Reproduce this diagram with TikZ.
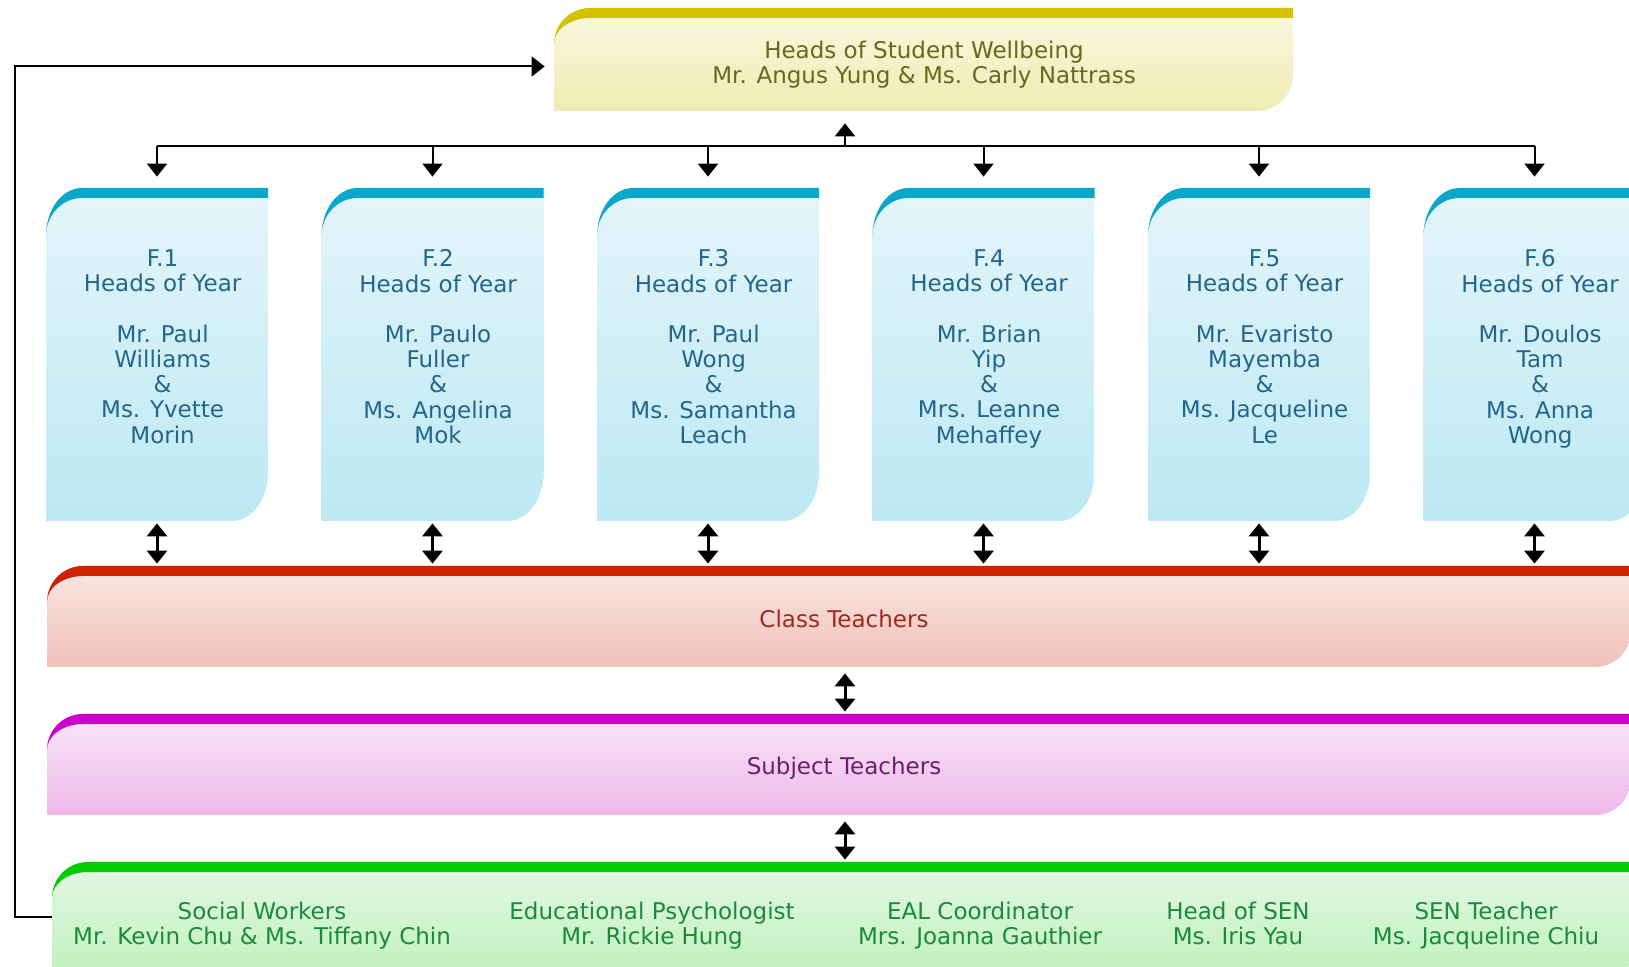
\documentclass[tikz,border=0pt]{standalone}
\usepackage{fontspec}
\setmainfont{DejaVu Sans}
\usetikzlibrary{arrows.meta,calc}

\definecolor{wbtop}{HTML}{FAF8E0}
\definecolor{wbbot}{HTML}{F0EBB4}
\definecolor{wbband}{HTML}{D2C200}
\definecolor{wbtxt}{HTML}{6B671C}
\definecolor{yrtop}{HTML}{E4F5FA}
\definecolor{yrbot}{HTML}{BDE9F3}
\definecolor{yrband}{HTML}{0BA7CB}
\definecolor{yrtxt}{HTML}{22668E}
\definecolor{cttop}{HTML}{F9E7E2}
\definecolor{ctbot}{HTML}{F0C1B9}
\definecolor{ctband}{HTML}{CC2200}
\definecolor{cttxt}{HTML}{A0281E}
\definecolor{sttop}{HTML}{F8E6F6}
\definecolor{stbot}{HTML}{F0B8EC}
\definecolor{stband}{HTML}{CC00CC}
\definecolor{sttxt}{HTML}{6E1C6E}
\definecolor{sptop}{HTML}{E6F8E4}
\definecolor{spbot}{HTML}{BAF0BA}
\definecolor{spband}{HTML}{00CC00}
\definecolor{sptxt}{HTML}{1B8A3A}

\begin{document}
\begin{tikzpicture}
  [x=0.5pt,y=-0.5pt,
   every node/.style={align=center,inner sep=0pt,font=\fontsize{11.5pt}{12.6pt}\selectfont},
   cry/.store in=\cry, cry=18pt,
   card/.style={rectangle,
     path picture={
       \coordinate (pp-sw) at (path picture bounding box.south west);
       \coordinate (pp-ne) at (path picture bounding box.north east);
       \shade[top color=#1top,bottom color=#1bot]
         (pp-sw) -- ($(pp-sw |- pp-ne)+(0pt,-\cry)$) arc[start angle=180,end angle=90,x radius=18pt,y radius=\cry]
         -- (pp-ne) -- ($(pp-ne |- pp-sw)+(0pt,\cry)$) arc[start angle=0,end angle=-90,x radius=18pt,y radius=\cry]
         -- cycle;
       \fill[#1band]
         ($(pp-sw |- pp-ne)+(0pt,-\cry)$) arc[start angle=180,end angle=90,x radius=18pt,y radius=\cry]
         -- (pp-ne) -- ++(0pt,-5pt) -- ($(pp-sw |- pp-ne)+(18pt,-5pt)$)
         arc[start angle=90,end angle=180,x radius=18pt,y radius=\cry-5pt] -- cycle;
     }},
   yrbox/.style={card=yr,cry=24pt,minimum width=111pt,minimum height=166.5pt},
   txt/.style={text=#1txt,execute at begin node=\strut,execute at end node=\strut},
   link/.style={draw,line width=1pt,-{Triangle[width=10pt,length=6.5pt]}},
   dbl/.style={draw,line width=1.5pt,{Triangle[width=10pt,length=6.5pt]}-{Triangle[width=10pt,length=6.5pt]}}]
  \useasboundingbox (0,0) rectangle (1629,967);
  \clip (0,0) rectangle (1629,967);

  % boxes
  \node[card=wb,minimum width=369.5pt,minimum height=51.5pt] (wb) at (923.5,59.5) {};
  \node[yrbox] (f1) at (157,354.5) {};
  \node[yrbox] (f2) at (432.5,354.5) {};
  \node[yrbox] (f3) at (708,354.5) {};
  \node[yrbox] (f4) at (983.5,354.5) {};
  \node[yrbox] (f5) at (1259,354.5) {};
  \node[yrbox] (f6) at (1534.5,354.5) {};
  \node[card=ct,minimum width=792pt,minimum height=50.5pt] (class) at (839,616.5) {};
  \node[card=st,minimum width=792pt,minimum height=50.5pt] (subj) at (839,764.5) {};
  \node[card=sp,minimum width=789.5pt,minimum height=64pt] (sp) at (841.5,926) {};

  % texts
  \node[txt=wb] (wbtext) at (924,66) {Heads of Student Wellbeing\\Mr. Angus Yung \& Ms. Carly Nattrass};
  \node[txt=yr] (t1) at ([xshift=2.8pt,yshift=2.1pt]f1.center)
    {F.1\\Heads of Year\\[12.6pt]Mr. Paul\\Williams\\\&\\Ms. Yvette\\Morin};
  \node[txt=yr] (t2) at ([xshift=2.8pt,yshift=2.1pt]f2.center)
    {F.2\\Heads of Year\\[12.6pt]Mr. Paulo\\Fuller\\\&\\Ms. Angelina\\Mok};
  \node[txt=yr] (t3) at ([xshift=2.8pt,yshift=2.1pt]f3.center)
    {F.3\\Heads of Year\\[12.6pt]Mr. Paul\\Wong\\\&\\Ms. Samantha\\Leach};
  \node[txt=yr] (t4) at ([xshift=2.8pt,yshift=2.1pt]f4.center)
    {F.4\\Heads of Year\\[12.6pt]Mr. Brian\\Yip\\\&\\Mrs. Leanne\\Mehaffey};
  \node[txt=yr] (t5) at ([xshift=2.8pt,yshift=2.1pt]f5.center)
    {F.5\\Heads of Year\\[12.6pt]Mr. Evaristo\\Mayemba\\\&\\Ms. Jacqueline\\Le};
  \node[txt=yr] (t6) at ([xshift=2.8pt,yshift=2.1pt]f6.center)
    {F.6\\Heads of Year\\[12.6pt]Mr. Doulos\\Tam\\\&\\Ms. Anna\\Wong};
  \node[txt=ct] (cttext) at (844,622) {Class Teachers};
  \node[txt=st] (sttext) at (844,769) {Subject Teachers};
  \node[txt=sp] (sw) at (262,927) {Social Workers\\Mr. Kevin Chu \& Ms. Tiffany Chin};
  \node[txt=sp] (ep) at (652,927) {Educational Psychologist\\Mr. Rickie Hung};
  \node[txt=sp] (eal) at (980,927) {EAL Coordinator\\Mrs. Joanna Gauthier};
  \node[txt=sp] (hsen) at (1238,927) {Head of SEN\\Ms. Iris Yau};
  \node[txt=sp] (sent) at (1486,927) {SEN Teacher\\Ms. Jacqueline Chiu};

  % connectors
  \coordinate (bus) at (845,146.5);
  \coordinate (loop) at (14.5,66.5);

  \draw[line width=1pt] (bus -| f1) -- (bus -| f6);
  \path[every edge/.style={link,shorten >=5.5pt}]
        (bus) edge[shorten >=6pt] (bus |- wb.south)
        (bus -| f1) edge (f1)
        (bus -| f2) edge (f2)
        (bus -| f3) edge (f3)
        (bus -| f4) edge (f4)
        (bus -| f5) edge (f5)
        (bus -| f6) edge (f6);
  \path[every edge/.style={dbl,shorten <=1pt,shorten >=1pt}]
        (f1) edge (f1 |- class.north)
        (f2) edge (f2 |- class.north)
        (f3) edge (f3 |- class.north)
        (f4) edge (f4 |- class.north)
        (f5) edge (f5 |- class.north)
        (f6) edge (f6 |- class.north)
        (class.south -| bus) edge[shorten <=3pt] (subj.north -| bus)
        (subj.south -| bus) edge[shorten <=3pt] (sp.north -| bus);
  \draw[link,shorten >=4.5pt] ([yshift=4.75pt]sp.west) -| (loop) -- ([yshift=-3.5pt]wb.west);

\end{tikzpicture}
\end{document}
